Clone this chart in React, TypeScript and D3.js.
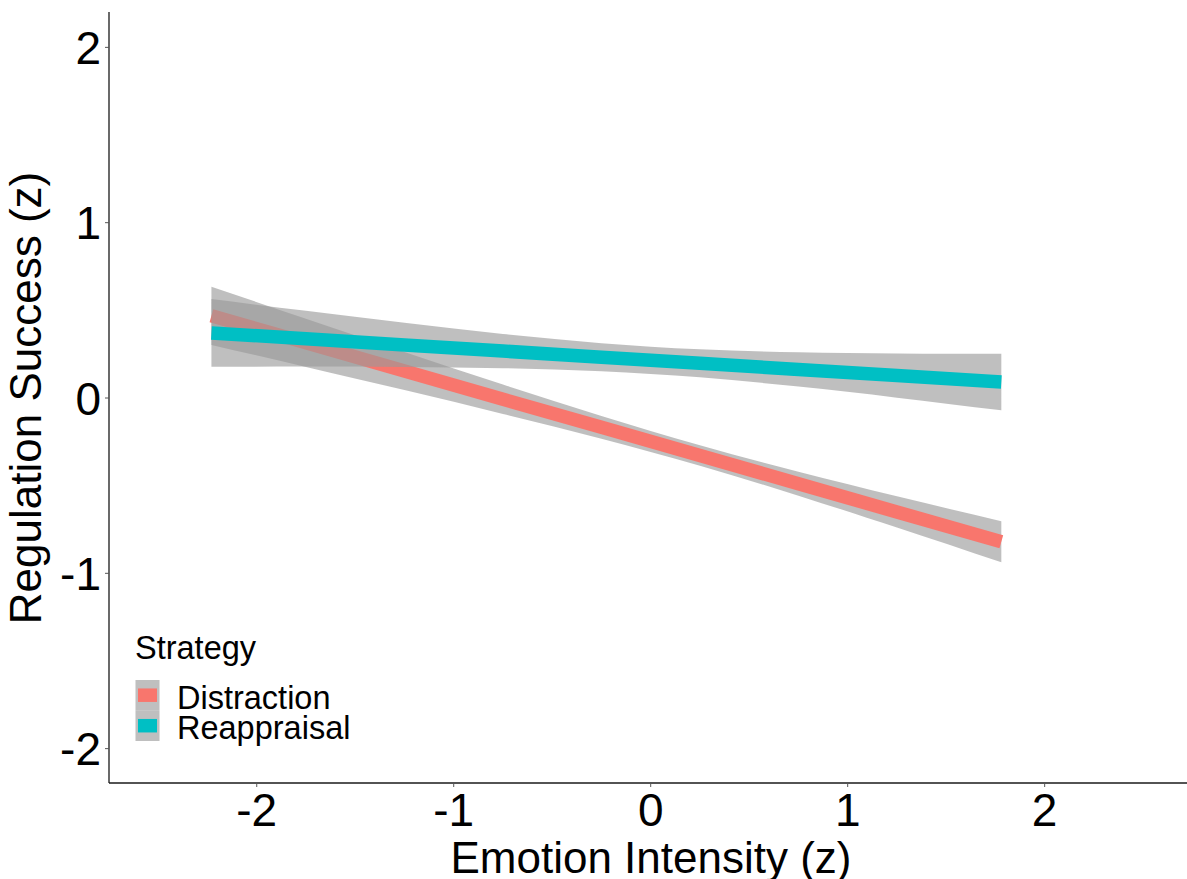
import React, { useEffect } from "react";
import * as d3 from "d3";

// Emotion intensity (z) grid over which the fitted lines and 95% bands are evaluated
const xGrid = [-2.23, -1.75, -1.25, -0.75, -0.25, 0.25, 0.75, 1.25, 1.78];

// Distraction: fitted regulation success and confidence band
const distractionFit = [0.469, 0.315, 0.154, -0.007, -0.167, -0.328, -0.489, -0.65, -0.82];
const distractionLower = [0.303, 0.177, 0.045, -0.091, -0.232, -0.386, -0.557, -0.739, -0.937];
const distractionUpper = [0.635, 0.452, 0.263, 0.077, -0.102, -0.27, -0.421, -0.561, -0.703];

// Reappraisal: fitted regulation success and confidence band
const reappraisalFit = [0.371, 0.3375, 0.3026, 0.2677, 0.2328, 0.1979, 0.163, 0.1281, 0.091];
const reappraisalLower = [0.178, 0.179, 0.177, 0.17, 0.153, 0.118, 0.065, 0.002, -0.07];
const reappraisalUpper = [0.564, 0.497, 0.429, 0.365, 0.313, 0.278, 0.261, 0.254, 0.252];

const strategies = ["Distraction", "Reappraisal"];
const strategyColors = ["#F8766D", "#00BFC4"];

const xTicks = [-2, -1, 0, 1, 2];
const yTicks = [-2, -1, 0, 1, 2];

const W = 1187;
const H = 879;
const FONT = "'Liberation Sans', Arial, Helvetica, sans-serif";

type Pt = { x: number; fit: number; lo: number; hi: number };

const makeSeries = (fit: number[], lo: number[], hi: number[]): Pt[] =>
  xGrid.map((x, i) => ({ x, fit: fit[i], lo: lo[i], hi: hi[i] }));

const series = [
  makeSeries(distractionFit, distractionLower, distractionUpper),
  makeSeries(reappraisalFit, reappraisalLower, reappraisalUpper),
];

export default function App() {
  useEffect(() => {
    document.body.style.margin = "0";
  }, []);

  const x = d3.scaleLinear().domain([-2.75, 2.75]).range([109, 1192.4]);
  const y = d3.scaleLinear().domain([-2.2, 2.2]).range([783.7, 12.3]);

  const band = d3
    .area<Pt>()
    .x((d) => x(d.x))
    .y0((d) => y(d.lo))
    .y1((d) => y(d.hi))
    .curve(d3.curveNatural);

  const line = d3
    .line<Pt>()
    .x((d) => x(d.x))
    .y((d) => y(d.fit));

  const axisLeft = 109;
  const axisBottom = 783;

  return (
    <svg
      width={W}
      height={H}
      viewBox={`0 0 ${W} ${H}`}
      style={{ position: "absolute", left: 0, top: 0, background: "#fff" }}
      fontFamily={FONT}
    >
      <rect x={0} y={0} width={W} height={H} fill="#fff" />

      {/* regression bands and fitted lines, one group after the other */}
      {series.map((s, i) => (
        <g key={strategies[i]}>
          <path d={band(s) || ""} fill="#999999" fillOpacity={0.63} stroke="none" />
          <path
            d={line(s) || ""}
            fill="none"
            stroke={strategyColors[i]}
            strokeWidth={13.5}
            strokeLinecap="butt"
          />
        </g>
      ))}

      {/* axes */}
      <line x1={axisLeft} x2={W} y1={axisBottom} y2={axisBottom} stroke="#1a1a1a" strokeWidth={1.3} />
      <line x1={axisLeft} x2={axisLeft} y1={12} y2={axisBottom} stroke="#1a1a1a" strokeWidth={1.3} />

      {xTicks.map((t) => (
        <g key={`xt${t}`}>
          <line x1={x(t)} x2={x(t)} y1={axisBottom} y2={axisBottom + 4} stroke="#555" strokeWidth={1} />
          <text x={x(t)} y={826} textAnchor="middle" fontSize={46} fill="#000">
            {String(t)}
          </text>
        </g>
      ))}

      {yTicks.map((t) => (
        <g key={`yt${t}`}>
          <line x1={axisLeft - 4} x2={axisLeft} y1={y(t)} y2={y(t)} stroke="#555" strokeWidth={1} />
          <text x={101} y={y(t)} dy="0.36em" textAnchor="end" fontSize={46} fill="#000">
            {String(t)}
          </text>
        </g>
      ))}

      {/* axis titles */}
      <text x={651} y={873} textAnchor="middle" fontSize={44} fill="#000">
        Emotion Intensity (z)
      </text>
      <text
        transform={`translate(41, 398) rotate(-90)`}
        textAnchor="middle"
        fontSize={44}
        fill="#000"
      >
        Regulation Success (z)
      </text>

      {/* legend */}
      <text x={135} y={659} fontSize={32.5} fill="#000">
        Strategy
      </text>
      {strategies.map((name, i) => {
        const top = 680 + i * 30.5;
        return (
          <g key={`lg${name}`}>
            <rect x={135.5} y={top} width={24} height={30.5} fill="#999999" fillOpacity={0.63} />
            <line
              x1={138}
              x2={157}
              y1={top + 15.2}
              y2={top + 15.2}
              stroke={strategyColors[i]}
              strokeWidth={13.5}
            />
            <text x={177} y={top + 28.5} fontSize={32.5} fill="#000">
              {name}
            </text>
          </g>
        );
      })}
    </svg>
  );
}
